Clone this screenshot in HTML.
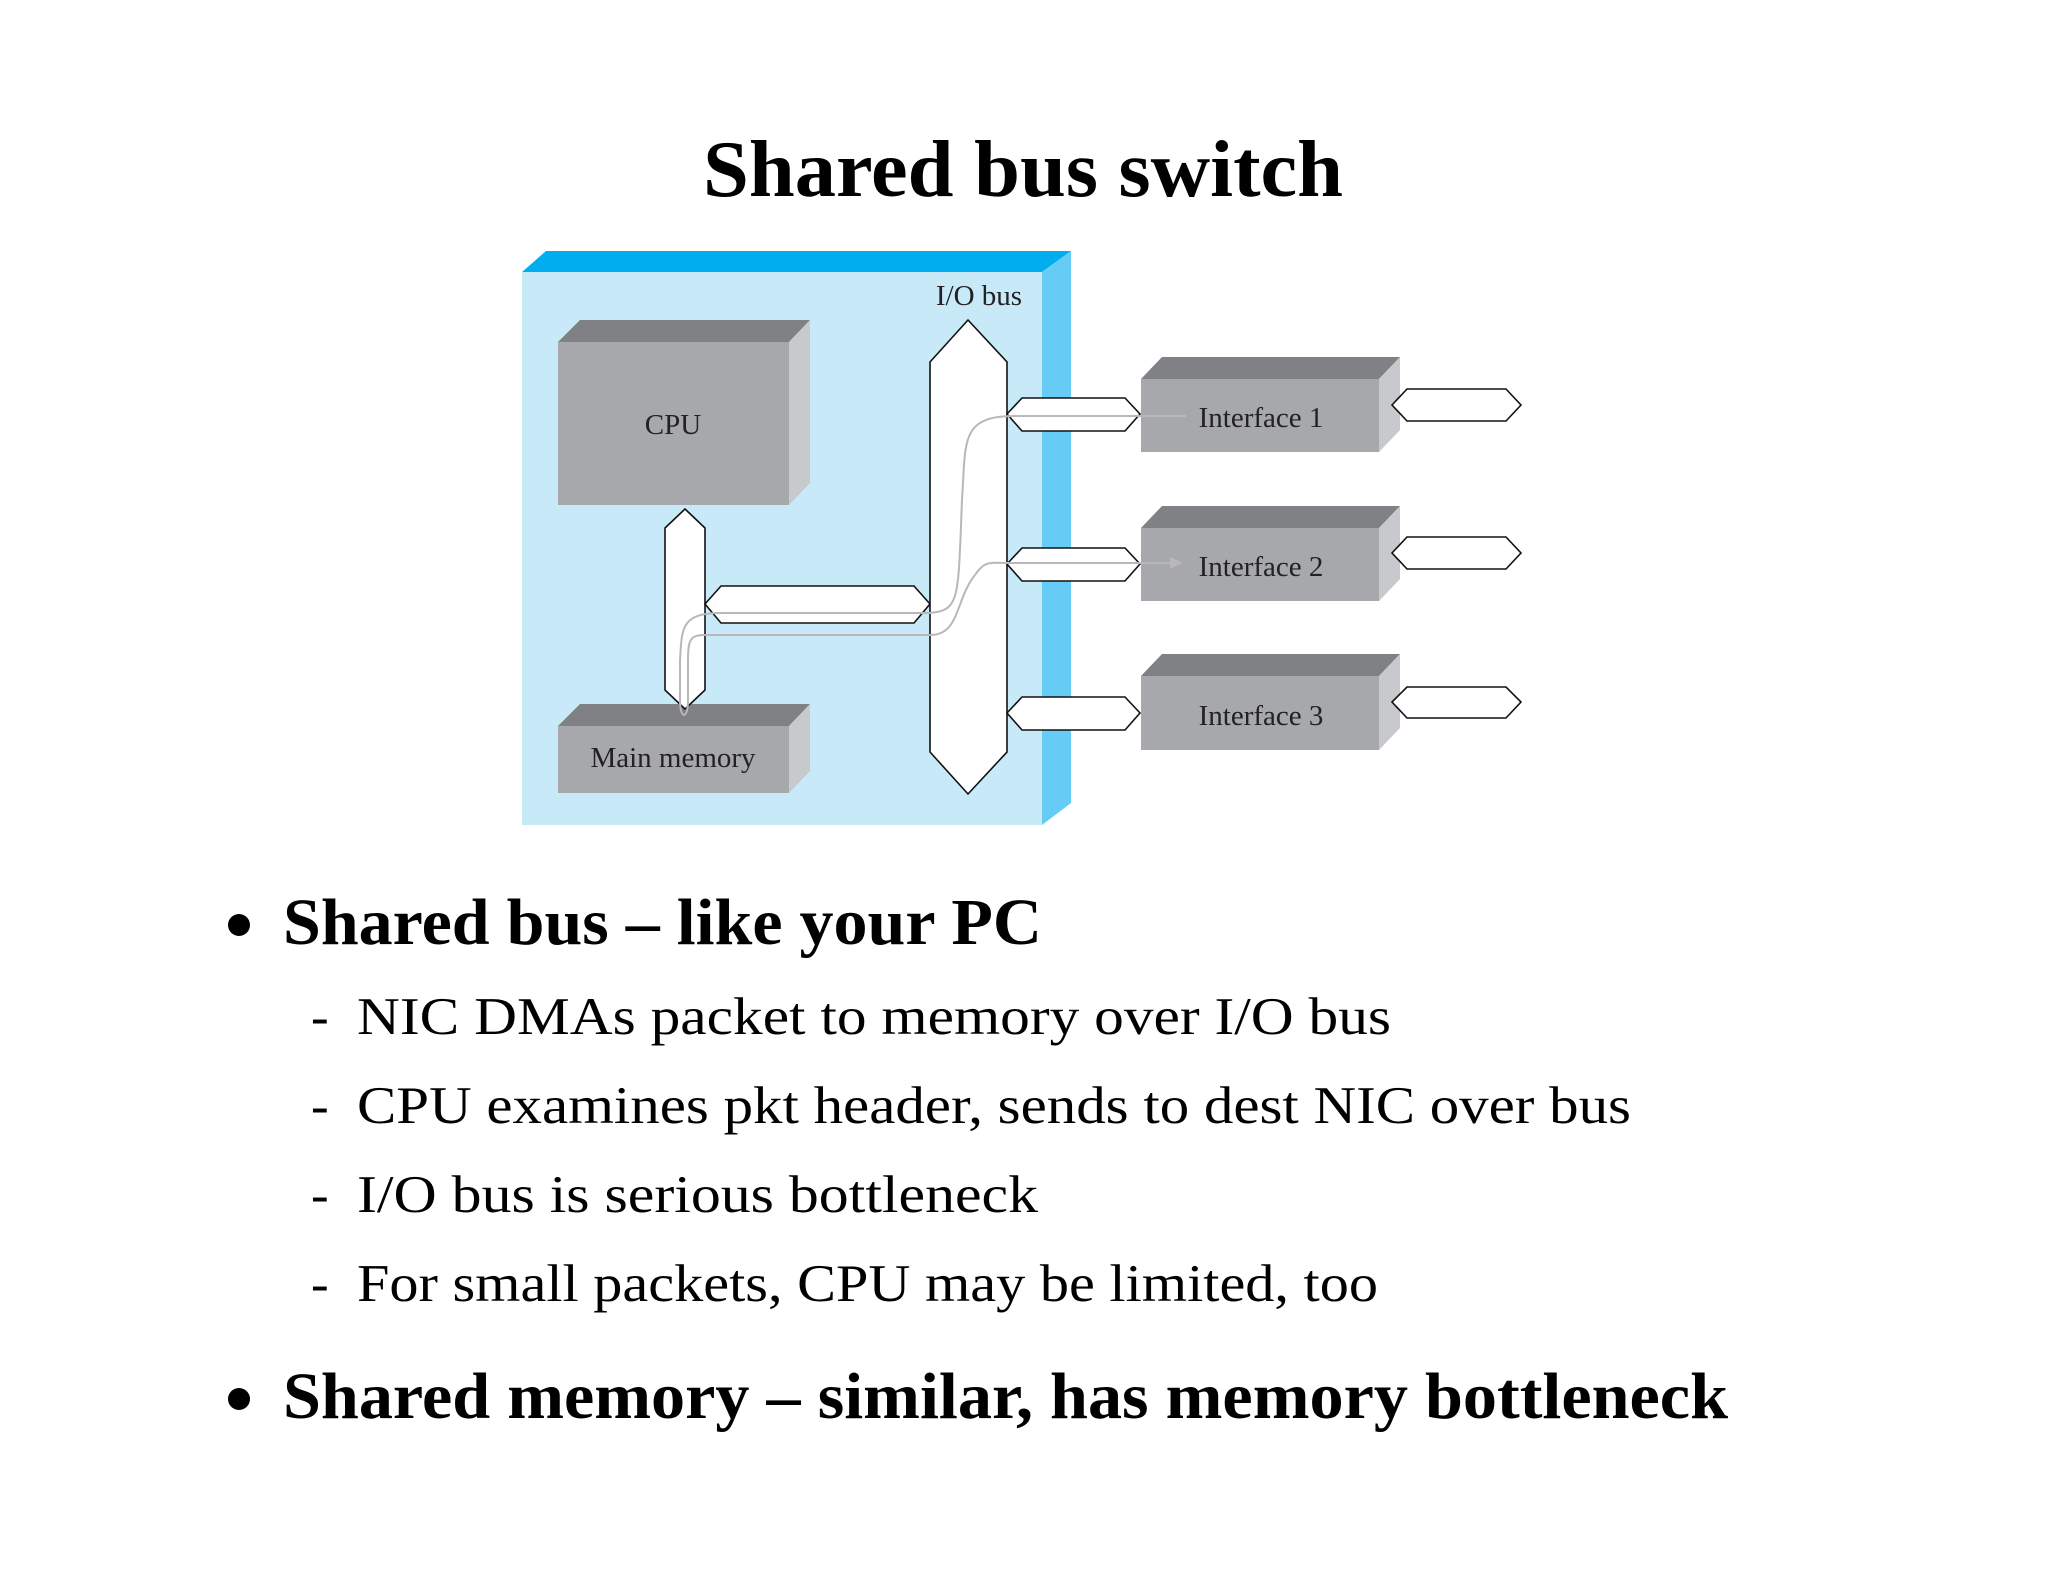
<!DOCTYPE html>
<html><head><meta charset="utf-8"><style>html,body{margin:0;padding:0;background:#fff}svg{display:block}</style></head>
<body>
<svg width="2048" height="1582" viewBox="0 0 2048 1582" xmlns="http://www.w3.org/2000/svg" font-family="Liberation Serif, serif">
<text x="1023" y="196" font-size="80" font-weight="bold" text-anchor="middle" textLength="640" lengthAdjust="spacingAndGlyphs">Shared bus switch</text>
<polygon points="522,272 546,251 1071,251 1042,272" fill="#00aeef"/>
<polygon points="1042,272 1071,251 1071,803 1042,825" fill="#66ccf5"/>
<rect x="522" y="272" width="520" height="553" fill="#c8e9f8"/>
<polygon points="558,342 580,320 810,320 789,342" fill="#808184"/>
<polygon points="789,342 810,320 810,483 789,505" fill="#c8c9cc"/>
<rect x="558" y="342" width="231" height="163" fill="#a7a8ac"/>
<text x="673" y="434" font-size="29" text-anchor="middle" fill="#222">CPU</text>
<polygon points="558,726 580,704 810,704 789,726" fill="#808184"/>
<polygon points="789,726 810,704 810,771 789,793" fill="#c8c9cc"/>
<rect x="558" y="726" width="231" height="67" fill="#a7a8ac"/>
<text x="673" y="767" font-size="29" text-anchor="middle" fill="#222">Main memory</text>
<g fill="#fff" stroke="#111" stroke-width="1.6">
<polygon points="685,509 705,528 705,690 685,709 665,690 665,528"/>
<polygon points="705,604 721,586 914,586 930,604 914,623 721,623"/>
<polygon points="968,320 1007,362 1007,752 968,794 930,752 930,362"/>
<polygon points="1007,414 1022,398 1125,398 1140,414 1125,431 1022,431"/>
<polygon points="1007,564 1022,548 1125,548 1140,564 1125,581 1022,581"/>
<polygon points="1007,713 1022,697 1125,697 1140,713 1125,730 1022,730"/>
</g>
<g>
<polygon points="1141,379 1162,357 1400,357 1379,379" fill="#808184"/>
<polygon points="1379,379 1400,357 1400,430 1379,452" fill="#c8c9cc"/>
<rect x="1141" y="379" width="238" height="73" fill="#a7a8ac"/>
<text x="1261" y="427" font-size="29" text-anchor="middle" fill="#222">Interface 1</text>
<polygon points="1141,528 1162,506 1400,506 1379,528" fill="#808184"/>
<polygon points="1379,528 1400,506 1400,579 1379,601" fill="#c8c9cc"/>
<rect x="1141" y="528" width="238" height="73" fill="#a7a8ac"/>
<text x="1261" y="576" font-size="29" text-anchor="middle" fill="#222">Interface 2</text>
<polygon points="1141,676 1162,654 1400,654 1379,676" fill="#808184"/>
<polygon points="1379,676 1400,654 1400,728 1379,750" fill="#c8c9cc"/>
<rect x="1141" y="676" width="238" height="74" fill="#a7a8ac"/>
<text x="1261" y="725" font-size="29" text-anchor="middle" fill="#222">Interface 3</text>
</g>
<g fill="#fff" stroke="#111" stroke-width="1.6">
<polygon points="1392,405 1407,389 1506,389 1521,405 1506,421 1407,421"/>
<polygon points="1392,553 1407,537 1506,537 1521,553 1506,569 1407,569"/>
<polygon points="1392,702 1407,687 1506,687 1521,702 1506,718 1407,718"/>
</g>
<text x="979" y="305" font-size="29" text-anchor="middle" fill="#222">I/O bus</text>
<g fill="none" stroke="#b8b8b8" stroke-width="2">
<path d="M1186,416 L1015,416 C960,416 966,440 962,500 C958,600 960,610 930,613 L720,613 C680,613 682,630 680,660 L680,700 C680,720 688,720 688,700 L688,660 C688,640 690,635 705,635 L930,635 C960,635 955,600 975,575 C985,560 990,563 1010,563 L1170,563"/>
</g>
<polygon points="1170,557 1183,563 1170,569" fill="#b8b8b8"/>
<circle cx="239" cy="925" r="11" fill="#000"/>
<text x="283" y="944" font-size="66" font-weight="bold" textLength="759" lengthAdjust="spacingAndGlyphs">Shared bus – like your PC</text>
<g font-size="53">
<text x="311" y="1034">-</text>
<text x="357" y="1034" textLength="1034" lengthAdjust="spacingAndGlyphs">NIC DMAs packet to memory over I/O bus</text>
<text x="311" y="1123">-</text>
<text x="357" y="1123" textLength="1274" lengthAdjust="spacingAndGlyphs">CPU examines pkt header, sends to dest NIC over bus</text>
<text x="311" y="1212">-</text>
<text x="357" y="1212" textLength="681" lengthAdjust="spacingAndGlyphs">I/O bus is serious bottleneck</text>
<text x="311" y="1301">-</text>
<text x="357" y="1301" textLength="1021" lengthAdjust="spacingAndGlyphs">For small packets, CPU may be limited, too</text>
</g>
<circle cx="239" cy="1399" r="11" fill="#000"/>
<text x="283" y="1418" font-size="66" font-weight="bold" textLength="1445" lengthAdjust="spacingAndGlyphs">Shared memory – similar, has memory bottleneck</text>
</svg>
</body></html>
